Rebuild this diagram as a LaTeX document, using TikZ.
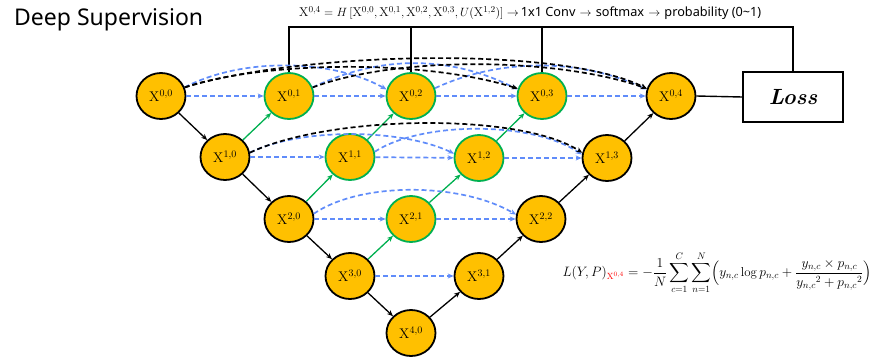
\documentclass[tikz,border=0pt]{standalone}
\usepackage{amsmath}
\usepackage{graphicx}
\usepackage{fontspec}
\newfontfamily\sansf{Noto Sans}
\usetikzlibrary{shapes.geometric,arrows.meta}
\definecolor{gold}{HTML}{FFC000}
\definecolor{grn}{HTML}{00B050}
\definecolor{blu}{RGB}{96,140,250}
\begin{document}
\begin{tikzpicture}[x=1pt,y=-1pt,
 nd/.style={ellipse, minimum width=49pt, minimum height=46pt, inner sep=0pt, fill=gold, draw=black, line width=1.8pt, font=\fontsize{14}{16}\selectfont},
 gnd/.style={nd, draw=grn},
 tip/.style={-{Stealth[length=6pt,width=5pt]}},
 dn/.style={tip, line width=1.3pt, black},
 gr/.style={tip, line width=1.3pt, grn},
 bd/.style={tip, line width=1.7pt, blu, dash pattern=on 5pt off 3pt},
 kd/.style={tip, line width=1.7pt, black, dash pattern=on 5pt off 3pt},
 conn/.style={line width=1.4pt, black},
]
\useasboundingbox (0,0) rectangle (879,362);

\node[anchor=base west, inner sep=0pt, font=\sansf\fontsize{23}{26}\selectfont] (title) at (14,25) {Deep Supervision};
\node[anchor=west, inner sep=0pt, font=\fontsize{12.7}{14}\selectfont] (ftop) at (299,13)
 {$\mathrm{X}^{0,4} = H\,[\mathrm{X}^{0,0},\mathrm{X}^{0,1},\mathrm{X}^{0,2},\mathrm{X}^{0,3},U(\mathrm{X}^{1,2})]\rightarrow$\,{\sansf 1x1 Conv} $\rightarrow$ {\sansf softmax} $\rightarrow$ {\sansf probability (0\textasciitilde 1)}};

\node[nd]  (a00) at (161,96) {$\mathrm{X}^{0,0}$};
\node[gnd] (a01) at (289,96) {$\mathrm{X}^{0,1}$};
\node[gnd] (a02) at (411,96) {$\mathrm{X}^{0,2}$};
\node[gnd] (a03) at (542,96) {$\mathrm{X}^{0,3}$};
\node[nd]  (a04) at (671,96) {$\mathrm{X}^{0,4}$};
\node[nd]  (a10) at (225,157) {$\mathrm{X}^{1,0}$};
\node[gnd] (a11) at (350,157) {$\mathrm{X}^{1,1}$};
\node[gnd] (a12) at (479,158) {$\mathrm{X}^{1,2}$};
\node[nd]  (a13) at (607,158) {$\mathrm{X}^{1,3}$};
\node[nd]  (a20) at (289,219) {$\mathrm{X}^{2,0}$};
\node[gnd] (a21) at (411,219) {$\mathrm{X}^{2,1}$};
\node[nd]  (a22) at (541,219) {$\mathrm{X}^{2,2}$};
\node[nd]  (a30) at (350,276) {$\mathrm{X}^{3,0}$};
\node[nd]  (a31) at (479,276) {$\mathrm{X}^{3,1}$};
\node[nd]  (a40) at (411,333) {$\mathrm{X}^{4,0}$};

\node[draw, line width=1.5pt, minimum width=100pt, minimum height=50pt, inner sep=0pt, font=\fontsize{22}{24}\selectfont] (loss) at (793,97) {\textbf{\textit{Loss}}};

\node[font=\fontsize{13.6}{15}\selectfont] (lf) at (717,273)
 {\resizebox{309pt}{!}{$\displaystyle L(Y,P)_{\textcolor{red}{\mathrm{X}^{0,4}}} = -\frac{1}{N}\sum_{c=1}^{C}\sum_{n=1}^{N}\Bigl(y_{n,c}\log p_{n,c}+\frac{y_{n,c}\times p_{n,c}}{{y_{n,c}}^{2}+{p_{n,c}}^{2}}\Bigr)$}};

% top connector
\coordinate (tp) at (0,27);
\draw[conn] (a01.north) -- (a01.north |- tp) -- (loss.north |- tp) -- (loss.north);
\draw[conn] (a02.north) -- (a02.north |- tp);
\draw[conn] (a03.north) -- (a03.north |- tp);
\draw[conn] (a04.east) -- (loss.west);

% encoder / decoder path
\draw[dn] (a00) -- (a10);
\draw[dn] (a10) -- (a20);
\draw[dn] (a20) -- (a30);
\draw[dn] (a30) -- (a40);
\draw[dn] (a40) -- (a31);
\draw[dn] (a31) -- (a22);
\draw[dn] (a22) -- (a13);
\draw[dn] (a13) -- (a04);

% upsampling (green)
\draw[gr] (a10) -- (a01);
\draw[gr] (a20) -- (a11);
\draw[gr] (a11) -- (a02);
\draw[gr] (a30) -- (a21);
\draw[gr] (a21) -- (a12);
\draw[gr] (a12) -- (a03);

% straight skip (blue)
\draw[bd] (a00) -- (a01);
\draw[bd] (a01) -- (a02);
\draw[bd] (a02) -- (a03);
\draw[bd] (a03) -- (a04);
\draw[bd] (a10) -- (a11);
\draw[bd] (a11) -- (a12);
\draw[bd] (a12) -- (a13);
\draw[bd] (a20) -- (a21);
\draw[bd] (a21) -- (a22);
\draw[bd] (a30) -- (a31);

% dense skip curves
\draw[bd] (a00.20) .. controls (240,58) and (330,58) .. (a02.165);
\draw[bd] (a01.20) .. controls (380,55) and (450,55) .. (a03.165);
\draw[bd] (a02.18) .. controls (500,58) and (580,58) .. (a04.165);
\draw[kd] (a00.20) .. controls (260,62) and (420,58) .. (a03.163);
\draw[kd] (a00.20) .. controls (300,52) and (560,45) .. (a04.163);
\draw[kd] (a01.20) .. controls (400,55) and (560,58) .. (a04.163);

\draw[bd] (a10.10) .. controls (300,128) and (400,128) .. (a12.170);
\draw[bd] (a11.12) .. controls (420,122) and (530,120) .. (a13.172);
\draw[kd] (a10.10) .. controls (330,115) and (520,112) .. (a13.168);

\draw[bd] (a20.12) .. controls (360,182) and (460,182) .. (a22.170);
\end{tikzpicture}
\end{document}
